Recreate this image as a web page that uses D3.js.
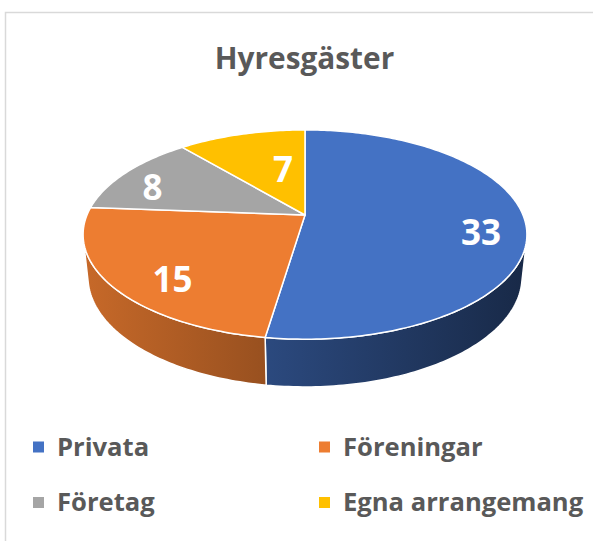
<!DOCTYPE html>
<html>
<head>
<meta charset="utf-8">
<script src="https://cdn.jsdelivr.net/npm/d3@7"></script>
<style>
  body { margin: 0; background: #fff; }
  #graphicContainer { width: 593px; height: 541px; }
  text { font-family: "Open Sans", Lato, sans-serif; font-weight: bold; }
</style>
</head>
<body>
<div id="graphicContainer"></div>
<script>
var title = "Hyresgäster"
var categories = ["Privata", "Föreningar", "Företag", "Egna arrangemang"]
var values = [33, 15, 8, 7]
var colours = ["#4472C4", "#ED7D31", "#A5A5A5", "#FFC000"]

// label placement inside each slice (fraction of radius, turn in degrees)
var labelFrac = [0.8, 0.79, 0.79, 0.51]
var labelTurn = [8, -8, -6, 7.5]

var width = 593
var height = 541

var svg = d3.select("#graphicContainer").append("svg")
  .attr("width", width)
  .attr("height", height)

// chart frame, cropped at the right and bottom
svg.append("rect")
  .attr("x", 5.5)
  .attr("y", 12.5)
  .attr("width", 600)
  .attr("height", 600)
  .attr("fill", "#fff")
  .attr("stroke", "#d9d9d9")
  .attr("stroke-width", 1.5)

svg.append("text")
  .attr("x", 304.5)
  .attr("y", 69)
  .attr("text-anchor", "middle")
  .style("font-size", "29.8px")
  .attr("fill", "#595959")
  .text(title)

// simple 3d projection of a tilted disc
var cx = 305, cy = 215
var R = 218, H = 48
var tilt = 27.6 * Math.PI / 180
var sinP = Math.sin(tilt), cosP = Math.cos(tilt)
var D = 1035

function project(a, f, Y) {
  var X = f * R * Math.sin(a)
  var Z = -f * R * Math.cos(a)
  var sy = Y * cosP - Z * sinP
  var d = Y * sinP + Z * cosP
  var s = D / (D - d)
  return [cx + X * s, cy - sy * s]
}

function arcPoints(a0, a1, Y) {
  var pts = []
  var n = Math.max(2, Math.ceil(Math.abs(a1 - a0) / (Math.PI / 180)))
  for (var i = 0; i <= n; i++) {
    pts.push(project(a0 + (a1 - a0) * i / n, 1, Y))
  }
  return pts
}

var pie = d3.pie().sort(null).value(function (d) { return d })
var arcs = pie(values)

var line = d3.line()

// visible part of the outer wall
var wallMin = Math.acos(-R / (D * cosP))
var wallMax = 2 * Math.PI - wallMin

var defs = svg.append("defs")
var shade = d3.scaleLinear().domain([83, 527]).range([0.84, 0.36])

arcs.forEach(function (d, i) {
  var c = d3.rgb(colours[i])
  var g = defs.append("linearGradient")
    .attr("id", "side" + i)
    .attr("gradientUnits", "userSpaceOnUse")
    .attr("x1", 83).attr("x2", 527)
    .attr("y1", 0).attr("y2", 0)
  shade.domain().forEach(function (x, j) {
    var k = shade(x)
    g.append("stop")
      .attr("offset", j)
      .attr("stop-color", d3.rgb(c.r * k, c.g * k, c.b * k))
  })
})

var pieG = svg.append("g")

pieG.selectAll(".side")
  .data(arcs.filter(function (d) {
    return d.endAngle > wallMin && d.startAngle < wallMax
  }))
  .enter().append("path")
  .attr("class", "side")
  .attr("d", function (d) {
    var a0 = Math.max(d.startAngle, wallMin)
    var a1 = Math.min(d.endAngle, wallMax)
    var pts = arcPoints(a0, a1, 0).concat(arcPoints(a1, a0, -H))
    return line(pts) + "Z"
  })
  .attr("fill", function (d) { return "url(#side" + d.index + ")" })
  .attr("stroke", "#fff")
  .attr("stroke-width", 1.5)
  .attr("stroke-linejoin", "round")

pieG.selectAll(".slice")
  .data(arcs)
  .enter().append("path")
  .attr("class", "slice")
  .attr("d", function (d) {
    var pts = [[cx, cy]].concat(arcPoints(d.startAngle, d.endAngle, 0))
    return line(pts) + "Z"
  })
  .attr("fill", function (d) { return colours[d.index] })
  .attr("stroke", "#fff")
  .attr("stroke-width", 1.5)
  .attr("stroke-linejoin", "round")

pieG.selectAll(".sliceLabel")
  .data(arcs)
  .enter().append("text")
  .attr("class", "sliceLabel")
  .attr("x", function (d) {
    var a = (d.startAngle + d.endAngle) / 2 + labelTurn[d.index] * Math.PI / 180
    return project(a, labelFrac[d.index], 0)[0]
  })
  .attr("y", function (d) {
    var a = (d.startAngle + d.endAngle) / 2 + labelTurn[d.index] * Math.PI / 180
    return project(a, labelFrac[d.index], 0)[1]
  })
  .attr("dy", "0.36em")
  .attr("text-anchor", "middle")
  .attr("fill", "#fff")
  .style("font-size", "35px")
  .text(function (d) { return d.data })

// legend, two columns
var legend = svg.selectAll(".legendItem")
  .data(categories)
  .enter().append("g")
  .attr("class", "legendItem")
  .attr("transform", function (d, i) {
    return "translate(" + (i % 2 == 0 ? 33 : 319) + "," + (i < 2 ? 455.5 : 511) + ")"
  })

legend.append("rect")
  .attr("x", 0)
  .attr("y", -14)
  .attr("width", 11)
  .attr("height", 11)
  .attr("fill", function (d, i) { return colours[i] })

legend.append("text")
  .attr("x", 24)
  .attr("y", 0)
  .attr("fill", "#595959")
  .style("font-size", "25.6px")
  .text(function (d) { return d })
</script>
</body>
</html>
